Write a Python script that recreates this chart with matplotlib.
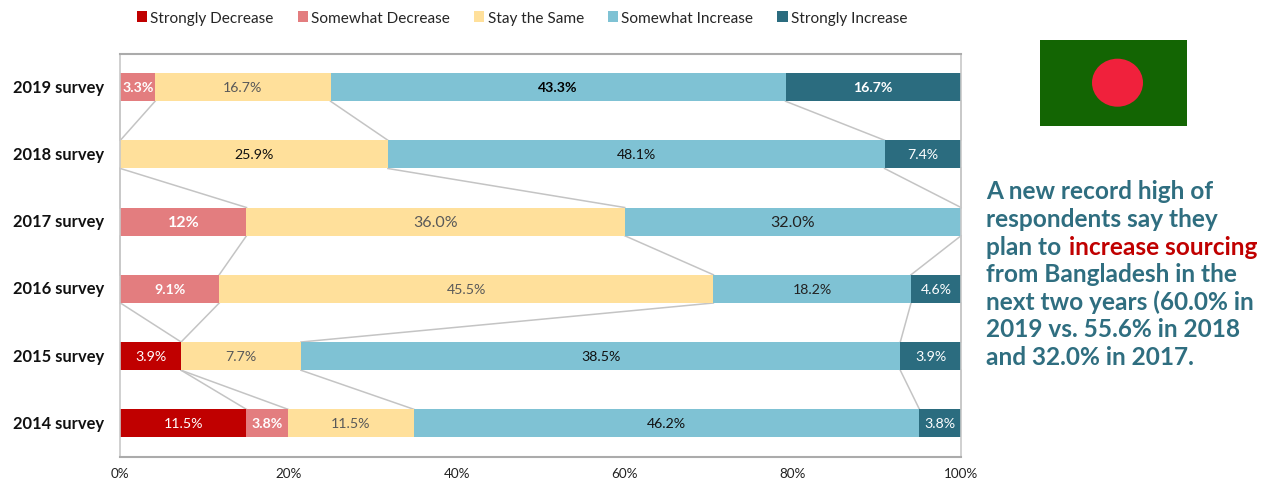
import matplotlib
matplotlib.use("Agg")
import matplotlib.pyplot as plt
from matplotlib.patches import Rectangle, Ellipse
from matplotlib.transforms import ScaledTranslation
import numpy as np

plt.rcParams['font.family'] = ['Lato', 'DejaVu Sans']
W, H = 1268, 481

surveys = ['2019 survey', '2018 survey', '2017 survey', '2016 survey', '2015 survey', '2014 survey']
series = ['Strongly Decrease', 'Somewhat Decrease', 'Stay the Same', 'Somewhat Increase', 'Strongly Increase']
colors = ['#C00000', '#E37D7F', '#FFE09B', '#7FC2D4', '#2B6C7F']

strongly_decrease = [0, 0, 0, 0, 3.9, 11.5]
somewhat_decrease = [3.3, 0, 12, 9.1, 0, 3.8]
stay_same = [16.7, 25.9, 36.0, 45.5, 7.7, 11.5]
somewhat_increase = [43.3, 48.1, 32.0, 18.2, 38.5, 46.2]
strongly_increase = [16.7, 7.4, 0, 4.6, 3.9, 3.8]

labels_sd = ['', '', '', '', '3.9%', '11.5%']
labels_wd = ['3.3%', '', '12%', '9.1%', '', '3.8%']
labels_ss = ['16.7%', '25.9%', '36.0%', '45.5%', '7.7%', '11.5%']
labels_wi = ['43.3%', '48.1%', '32.0%', '18.2%', '38.5%', '46.2%']
labels_si = ['16.7%', '7.4%', '', '4.6%', '3.9%', '3.8%']

# label colours per series and survey
tc_ss = ['#595959', '#111111', '#595959', '#595959', '#595959', '#595959']
tc_wi = ['#000000', '#111111', '#222222', '#222222', '#111111', '#111111']

vals = np.array([strongly_decrease, somewhat_decrease, stay_same, somewhat_increase, strongly_increase], float)
shares = vals / vals.sum(axis=0) * 100
cum = np.cumsum(shares, axis=0)
left = np.vstack([np.zeros(len(surveys)), cum[:-1]])
ypos = np.arange(len(surveys))
bar_h = 0.42

fig = plt.figure(figsize=(W / 100, H / 100), dpi=100, facecolor='white')
ax = fig.add_axes([120.4 / W, 1 - 458 / H, (961 - 120.4) / W, (458 - 54.5) / H])
ax.set_xlim(0, 100)
ax.set_ylim(5.5, -0.5)

# series lines between neighbouring bars
for s in range(len(series)):
    for i in range(len(surveys) - 1):
        ax.plot([cum[s, i], cum[s, i + 1]], [i + bar_h / 2, i + 1 - bar_h / 2],
                color='#C4C4C4', lw=1.1, zorder=1, clip_on=False)

handles = []
for s, name in enumerate(series):
    b = ax.barh(ypos, shares[s], left=left[s], height=bar_h, color=colors[s], label=name, zorder=2)
    handles.append(b)

all_labels = [labels_sd, labels_wd, labels_ss, labels_wi, labels_si]
for s, labs in enumerate(all_labels):
    for i, lab in enumerate(labs):
        if not lab:
            continue
        x = left[s, i] + shares[s, i] / 2
        kw = dict(color='#222222', fontsize=10.2, fontweight='normal')
        if s == 0 or s == 4:
            kw['color'] = 'white'
        if s == 1:
            kw.update(color='white', fontweight='bold')
        if s == 2:
            kw['color'] = tc_ss[i]
        if s == 3:
            kw['color'] = tc_wi[i]
        if lab == '12%':
            kw['fontsize'] = 11.5
        if lab == '16.7%' and s == 4:
            kw['fontweight'] = 'bold'
        if lab == '43.3%':
            kw['fontweight'] = 'bold'
        if lab in ('36.0%', '32.0%'):
            kw['fontsize'] = 11.5
        ax.text(x, i, lab, ha='center', va='center', zorder=3, **kw)

for side, c, lw in [('top', '#ABABAB', 1.5), ('bottom', '#ABABAB', 1.5), ('left', '#C8C8C8', 1.2), ('right', '#C8C8C8', 1.2)]:
    ax.spines[side].set_color(c)
    ax.spines[side].set_linewidth(lw)

ax.set_yticks(ypos)
ax.set_yticklabels(surveys, fontsize=11.9, fontweight='bold', color='#111111')
ax.set_xticks(range(0, 101, 20))
ax.set_xticklabels([f'{v}%' for v in range(0, 101, 20)], fontsize=9.7, color='#222222')
ax.tick_params(axis='both', length=0)
ax.tick_params(axis='y', pad=11.5)
ax.tick_params(axis='x', pad=7)
nudge = ScaledTranslation(0, 2 / 100, fig.dpi_scale_trans)
for lab in ax.get_yticklabels():
    lab.set_transform(lab.get_transform() + nudge)

fig.legend(handles=handles, loc='center', bbox_to_anchor=(522 / W, 1 - 19 / H), ncol=5, frameon=False,
           fontsize=11.1, handlelength=0.68, handleheight=0.68, handletextpad=0.2, columnspacing=1.55,
           labelcolor='#262626', borderpad=0, borderaxespad=0)

# overlay in pixel coordinates for the flag and the commentary
ov = fig.add_axes([0, 0, 1, 1], facecolor='none')
ov.set_xlim(0, W)
ov.set_ylim(H, 0)
ov.axis('off')
ov.add_patch(Rectangle((1040, 40.7), 147, 86, facecolor='#136503', edgecolor='none'))
ov.add_patch(Ellipse((1117.5, 83.7), 51, 48, facecolor='#F0213C', edgecolor='none'))

teal = '#2F6E80'
lines = ['A new record high of', 'respondents say they', 'plan to ', 'from Bangladesh in the',
         'next two years (60.0% in', '2019 vs. 55.6% in 2018', 'and 32.0% in 2017.']
tops = [199.5, 227, 255, 282.5, 310.5, 337.5, 365]
for line, y in zip(lines, tops):
    ov.text(986, y, line, color=teal, fontsize=17.6, fontweight='bold', ha='left', va='baseline')
    if line == 'plan to ':
        ov.text(1069, y, 'increase sourcing', color='#C00000', fontsize=17.6, fontweight='bold',
                ha='left', va='baseline')

fig.savefig('out.png', dpi=100)
